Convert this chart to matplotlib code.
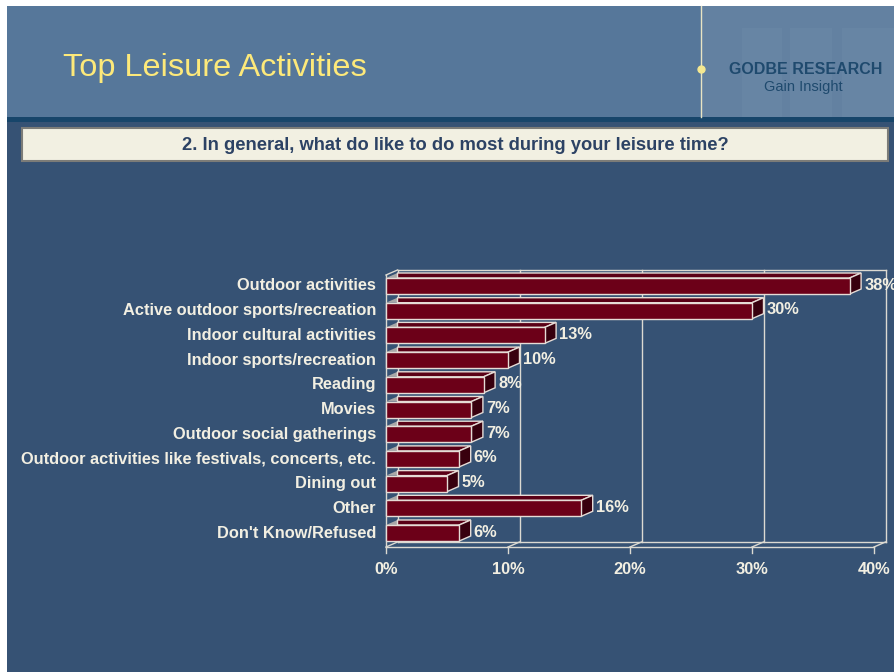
import matplotlib.pyplot as plt
from matplotlib.patches import Polygon, Rectangle

categories = [
    'Outdoor activities',
    'Active outdoor sports/recreation',
    'Indoor cultural activities',
    'Indoor sports/recreation',
    'Reading',
    'Movies',
    'Outdoor social gatherings',
    'Outdoor activities like festivals, concerts, etc.',
    'Dining out',
    'Other',
    "Don't Know/Refused",
]
values = [38, 30, 13, 10, 8, 7, 7, 6, 5, 16, 6]
ticks = [0, 10, 20, 30, 40]
tick_labels = ['0%', '10%', '20%', '30%', '40%']

title = 'Top Leisure Activities'
question = '2. In general, what do like to do most during your leisure time?'

W, H = 894, 672
BG = '#365274'
HEADER = '#56779a'
TXT = '#f2efe2'
FRONT = '#6c0018'
TOP = '#5a0016'
SIDE = '#38000e'
EDGE = '#e6dcd6'
GRID = '#dcdad2'

plt.rcParams['font.family'] = ['Liberation Sans', 'DejaVu Sans']

fig = plt.figure(figsize=(W / 100, H / 100), dpi=100)
fig.patch.set_facecolor('white')

# decoration layer in pixel coordinates
bg = fig.add_axes([0, 0, 1, 1])
bg.set_xlim(0, W)
bg.set_ylim(H, 0)
bg.axis('off')
bg.add_patch(Rectangle((7, 6), W - 7, H - 6, color=BG, lw=0))
bg.add_patch(Rectangle((7, 6), W - 7, 112, color=HEADER, lw=0))
bg.add_patch(Rectangle((702, 6), W - 702, 112, color='#6381a1', lw=0))
for x0, w in [(742, 40), (790, 42), (842, 52)]:
    bg.add_patch(Rectangle((x0, 28), w, 90, color='#7290ae', lw=0, alpha=0.3))
bg.add_patch(Rectangle((7, 117), W - 7, 5, color='#17456a', lw=0))
bg.plot([701, 701], [6, 117], color='#e8e4c4', lw=1)
bg.plot([701], [69], 'o', color='#f4e890', ms=5)
bg.text(63, 68, title, color='#fde97a', fontsize=23.4, va='center', ha='left')
bg.text(806, 69, 'GODBE RESEARCH', color='#1f4a6e', fontsize=11.5,
        fontweight='bold', ha='center', va='center')
bg.text(803, 87, 'Gain Insight', color='#1f4a6e', fontsize=10.5,
        ha='center', va='center')

# question box
bg.add_patch(Rectangle((22, 128), 866, 33, facecolor='#f2f0e2',
                       edgecolor='#7c7c78', lw=1.5))
bg.text(455, 145, question, color='#2c4264', fontsize=13.2,
        fontweight='bold', ha='center', va='center')

# chart area: x 0..40 -> px 386..874, row centers at 286 + 24.7*i
px_per_pct = (874 - 386) / 40
row = 24.7
y_top = (275 - 286) / row
y_bot = (547 - 286) / row
ax = fig.add_axes([386 / W, 1 - 547 / H, (874 - 386) / W, (547 - 275) / H])
ax.set_xlim(0, 40)
ax.set_ylim(y_bot, y_top)
ax.axis('off')

dx = 11.5 / px_per_pct
dy = 5 / row
half = 8 / row

# walls, floor and gridlines
for t in ticks:
    ax.plot([t + dx, t + dx], [y_top - dy, y_bot - dy], color=GRID, lw=1,
            clip_on=False, zorder=1)
    ax.plot([t, t + dx], [y_bot, y_bot - dy], color=GRID, lw=1,
            clip_on=False, zorder=1)
    ax.plot([t, t], [y_bot, y_bot + 6 / row], color=GRID, lw=1,
            clip_on=False, zorder=1)
ax.plot([dx, 40 + dx], [y_top - dy, y_top - dy], color=GRID, lw=1,
        clip_on=False, zorder=1)
ax.plot([dx, 40 + dx], [y_bot - dy, y_bot - dy], color=GRID, lw=1,
        clip_on=False, zorder=1)
ax.plot([0, 40], [y_bot, y_bot], color=GRID, lw=1, clip_on=False, zorder=1)
ax.plot([0, 0], [y_top, y_bot], color=GRID, lw=1, clip_on=False, zorder=1)
ax.plot([0, dx], [y_top, y_top - dy], color=GRID, lw=1, clip_on=False,
        zorder=1)

for i, (name, v) in enumerate(zip(categories, values)):
    yt, yb = i - half, i + half
    ax.add_patch(Polygon([(0, yt), (dx, yt - dy), (dx, yt)],
                         closed=True, facecolor='#a8a8a8', edgecolor='none',
                         zorder=2, clip_on=False))
    ax.add_patch(Polygon([(dx, yt - dy), (v + dx, yt - dy), (v, yt), (dx, yt)],
                         closed=True, facecolor=TOP, edgecolor=EDGE, lw=1,
                         zorder=3, clip_on=False))
    ax.add_patch(Polygon([(v, yt), (v + dx, yt - dy), (v + dx, yb - dy), (v, yb)],
                         closed=True, facecolor=SIDE, edgecolor=EDGE, lw=1,
                         zorder=3, clip_on=False))
    ax.add_patch(Rectangle((0, yt), v, yb - yt, facecolor=FRONT,
                           edgecolor=EDGE, lw=1, zorder=4, clip_on=False))
    ax.text(v + dx + 3 / px_per_pct, i - 0.04, f'{v}%', color=TXT,
            fontsize=11.8, fontweight='bold', ha='left', va='center',
            clip_on=False)
    ax.text(-10 / px_per_pct, i, name, color=TXT, fontsize=11.8,
            fontweight='bold', ha='right', va='center', clip_on=False)

for t, lab in zip(ticks, tick_labels):
    ax.text(t, y_bot + 22 / row, lab, color=TXT, fontsize=11.8,
            fontweight='bold', ha='center', va='center', clip_on=False)

fig.savefig('out.png', dpi=100, facecolor=fig.get_facecolor())
